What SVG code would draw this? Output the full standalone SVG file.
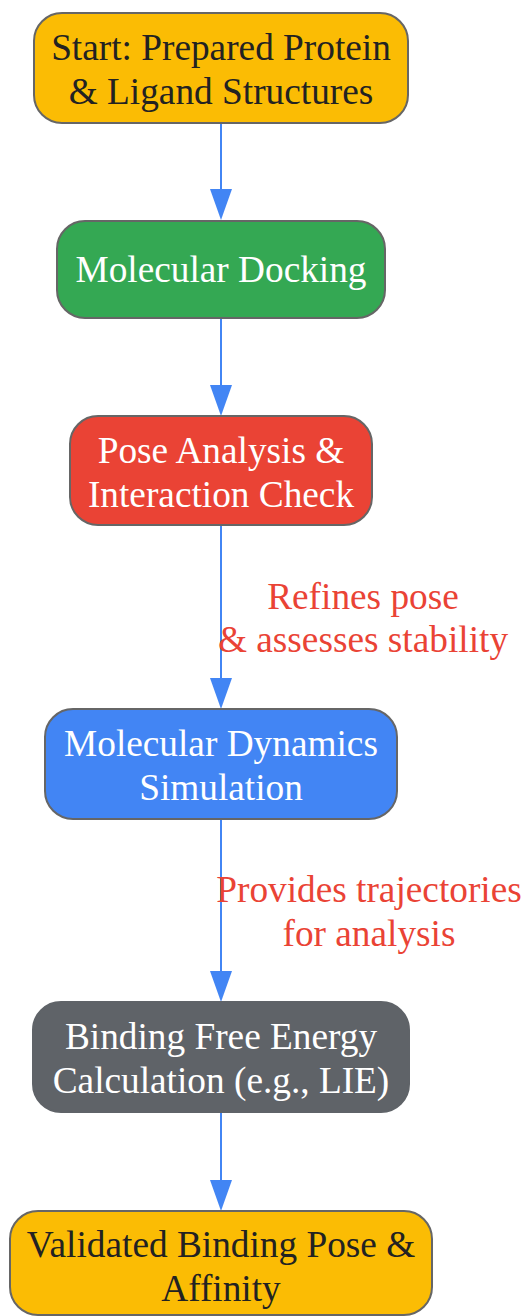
<svg xmlns="http://www.w3.org/2000/svg" width="525" height="1316" viewBox="0 0 525 1316">
<style>
.n{stroke:#666666;stroke-width:2}
.t{font-family:"Liberation Serif","Times New Roman",serif;font-size:37.3px;text-anchor:middle}
.w{fill:#ffffff}
.d{fill:#222222}
.e{stroke:#4285F4;stroke-width:2;fill:none}
.a{fill:#4285F4}
.l{font-family:"Liberation Serif","Times New Roman",serif;font-size:37.3px;text-anchor:middle;fill:#EA4335}
</style>
<rect width="525" height="1316" fill="#ffffff"/>
<g id="connectors">
<line class="e" x1="221" y1="123" x2="221" y2="189"/>
<path class="a" d="M210,189 L232,189 L221,220 Z"/>
<line class="e" x1="221" y1="318" x2="221" y2="385"/>
<path class="a" d="M210,385 L232,385 L221,416 Z"/>
<line class="e" x1="221" y1="525" x2="221" y2="678"/>
<path class="a" d="M210,678 L232,678 L221,709 Z"/>
<line class="e" x1="221" y1="819" x2="221" y2="971"/>
<path class="a" d="M210,971 L232,971 L221,1002 Z"/>
<line class="e" x1="221" y1="1112" x2="221" y2="1180"/>
<path class="a" d="M210,1180 L232,1180 L221,1211 Z"/>
<text class="l" x="363" y="609">Refines pose</text>
<text class="l" x="363" y="652">&amp; assesses stability</text>
<text class="l" x="369" y="902">Provides trajectories</text>
<text class="l" x="369" y="946">for analysis</text>
</g>
<g id="start">
<rect class="n" x="34" y="13" width="374" height="110" rx="28" fill="#FBBC04"/>
<text class="t d" x="221" y="60">Start: Prepared Protein</text>
<text class="t d" x="221" y="104">&amp; Ligand Structures</text>
</g>
<g id="docking">
<rect class="n" x="57" y="221" width="328" height="97" rx="28" fill="#34A853"/>
<text class="t w" x="221" y="282">Molecular Docking</text>
</g>
<g id="pose">
<rect class="n" x="70" y="416" width="302" height="109" rx="28" fill="#EA4335"/>
<text class="t w" x="221" y="463">Pose Analysis &amp;</text>
<text class="t w" x="221" y="507">Interaction Check</text>
</g>
<g id="md">
<rect class="n" x="45" y="709" width="352" height="110" rx="28" fill="#4285F4"/>
<text class="t w" x="221" y="756">Molecular Dynamics</text>
<text class="t w" x="221" y="800">Simulation</text>
</g>
<g id="energy">
<rect x="33" y="1002" width="376" height="110" rx="28" fill="#5F6368" stroke="#5F6368" stroke-width="2"/>
<text class="t w" x="221" y="1049">Binding Free Energy</text>
<text class="t w" x="221" y="1093">Calculation (e.g., LIE)</text>
</g>
<g id="result">
<rect class="n" x="10" y="1211" width="422" height="104" rx="28" fill="#FBBC04"/>
<text class="t d" x="221" y="1257">Validated Binding Pose &amp;</text>
<text class="t d" x="221" y="1301">Affinity</text>
</g>
</svg>
